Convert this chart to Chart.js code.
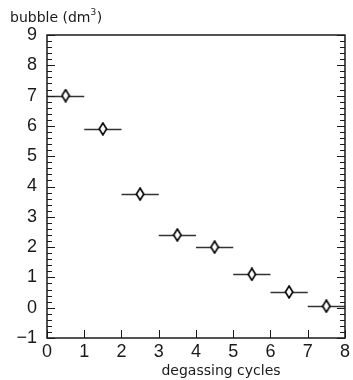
<!DOCTYPE html>
<html>
<head>
<meta charset="utf-8">
<script src="https://cdn.jsdelivr.net/npm/chart.js@4/dist/chart.umd.min.js"></script>
<style>
html,body{margin:0;padding:0;background:#fff;}
#wrap{width:353px;height:380px;}
</style>
</head>
<body>
<div id="wrap"><canvas id="c" width="353" height="380"></canvas></div>
<script>
const cycles = [0.5, 1.5, 2.5, 3.5, 4.5, 5.5, 6.5, 7.5];
const bubble = [7.0, 5.9, 3.75, 2.4, 2.0, 1.1, 0.52, 0.05];
const xErr = [0.5, 0.5, 0.5, 0.5, 0.5, 0.5, 0.5, 0.5];
const xTicks = [0, 1, 2, 3, 4, 5, 6, 7, 8];
const yTicks = [-1, 0, 1, 2, 3, 4, 5, 6, 7, 8, 9];
const yTitle = 'bubble (dm³)';
const xTitle = 'degassing cycles';

const INK = '#1a1a1a';
const FONT = '"Liberation Sans", Arial, sans-serif';
const TFONT = '"DejaVu Sans", "Liberation Sans", sans-serif';

// tall diamond marker
function makeDiamond(){
  const w = 10, h = 14;
  const cv = document.createElement('canvas');
  cv.width = w; cv.height = h;
  const g = cv.getContext('2d');
  g.beginPath();
  g.moveTo(w/2, 1);
  g.lineTo(w-1.3, h/2);
  g.lineTo(w/2, h-1);
  g.lineTo(1.3, h/2);
  g.closePath();
  g.fillStyle = '#fff';
  g.fill();
  g.lineWidth = 1.6;
  g.strokeStyle = '#000';
  g.stroke();
  return cv;
}

const framePlugin = {
  id: 'frame',
  beforeDatasetsDraw(chart){
    const ctx = chart.ctx;
    const xs = chart.scales.x, ys = chart.scales.y;
    ctx.save();
    ctx.strokeStyle = '#333';
    ctx.lineWidth = 1.4;
    for (let i = 0; i < cycles.length; i++){
      const y = Math.round(ys.getPixelForValue(bubble[i])) + 0.5;
      const x1 = xs.getPixelForValue(cycles[i] - xErr[i]);
      const x2 = xs.getPixelForValue(cycles[i] + xErr[i]);
      ctx.beginPath();
      ctx.moveTo(x1, y); ctx.lineTo(x2, y);
      ctx.stroke();
    }
    ctx.restore();
  },
  afterDraw(chart){
    const ctx = chart.ctx;
    const a = chart.chartArea;
    const xs = chart.scales.x, ys = chart.scales.y;
    ctx.save();
    ctx.strokeStyle = INK;
    ctx.lineWidth = 1.5;
    ctx.strokeRect(a.left, a.top, a.right - a.left, a.bottom - a.top);
    ctx.lineWidth = 1;
    // y ticks (left and right)
    for (let v = -1; v <= 9.0001; v += 0.2){
      const vv = Math.round(v * 10) / 10;
      const y = Math.round(ys.getPixelForValue(vv)) + 0.5;
      const major = Math.abs(vv - Math.round(vv)) < 1e-6;
      const len = major ? 8 : 5;
      ctx.beginPath();
      ctx.moveTo(a.left, y); ctx.lineTo(a.left + len, y);
      ctx.moveTo(a.right, y); ctx.lineTo(a.right - len, y);
      ctx.stroke();
    }
    // x ticks
    for (const t of xTicks){
      const x = Math.round(xs.getPixelForValue(t)) + 0.5;
      ctx.beginPath();
      ctx.moveTo(x, a.bottom); ctx.lineTo(x, a.bottom - 8);
      ctx.stroke();
    }
    // titles
    ctx.fillStyle = INK;
    ctx.font = '14px ' + TFONT;
    ctx.textBaseline = 'alphabetic';
    ctx.textAlign = 'left';
    const base = 'bubble (dm';
    ctx.fillText(base, 10, 22);
    const w1 = ctx.measureText(base).width;
    ctx.font = '9px ' + TFONT;
    ctx.fillText('3', 10 + w1, 15);
    const w2 = ctx.measureText('3').width;
    ctx.font = '14px ' + TFONT;
    ctx.fillText(')', 10 + w1 + w2 + 0.5, 22);
    ctx.textAlign = 'center';
    ctx.fillText(xTitle, 221, 375);
    ctx.restore();
  }
};

new Chart(document.getElementById('c'), {
  type: 'scatter',
  data: {
    datasets: [{
      data: cycles.map((x, i) => ({x: x, y: bubble[i]})),
      pointStyle: makeDiamond(),
      pointRadius: 6,
      pointHoverRadius: 6,
      showLine: false
    }]
  },
  options: {
    responsive: false,
    animation: false,
    events: [],
    layout: { padding: { top: 35, right: 6, left: 0, bottom: 0 } },
    plugins: { legend: { display: false }, tooltip: { enabled: false } },
    scales: {
      x: {
        type: 'linear', min: 0, max: 8,
        afterFit(s){ s.height = 42; },
        afterBuildTicks(s){ s.ticks = xTicks.map(v => ({value: v})); },
        grid: { display: false, drawTicks: false },
        border: { display: false },
        ticks: { padding: 3, color: INK, font: { family: FONT, size: 18 }, maxRotation: 0, autoSkip: false }
      },
      y: {
        type: 'linear', min: -1, max: 9,
        afterFit(s){ s.width = 47; },
        afterBuildTicks(s){ s.ticks = yTicks.map(v => ({value: v})); },
        grid: { display: false, drawTicks: false },
        border: { display: false },
        ticks: { padding: 10, color: INK, font: { family: FONT, size: 18 }, autoSkip: false,
          callback: v => String(v).replace('-', '\u2212') }
      }
    }
  },
  plugins: [framePlugin]
});
</script>
</body>
</html>
